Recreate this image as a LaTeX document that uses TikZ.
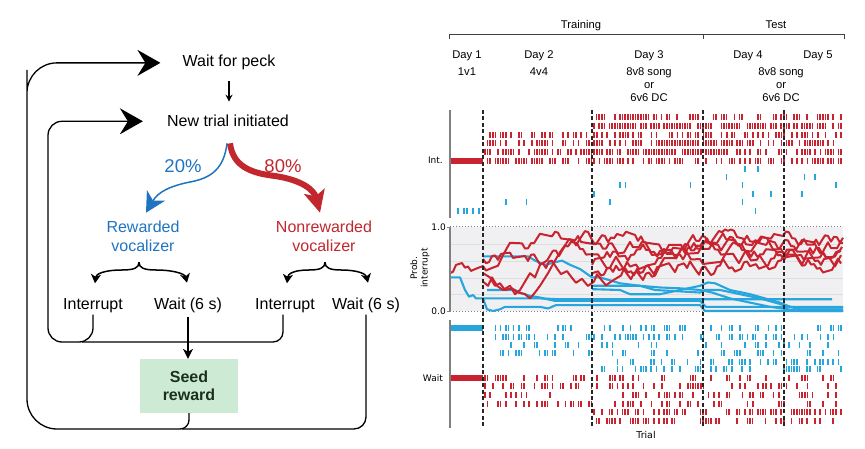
\documentclass[tikz,border=0pt]{standalone}
\usepackage{fontspec}
\setmainfont{Liberation Sans}
\newfontfamily\mplfont{DejaVu Sans}
\usetikzlibrary{arrows.meta,calc}
\definecolor{lblue}{HTML}{1F74C1}
\definecolor{lred}{HTML}{C1272D}
\definecolor{rred}{HTML}{C8232F}
\definecolor{rblue}{HTML}{27A6DE}
\definecolor{seedfill}{HTML}{CDEBD4}
\definecolor{seedtext}{HTML}{1A301C}
\definecolor{panelbg}{HTML}{F0F0F2}

\newcommand\rasterrow[6]{%
  \pgfmathtruncatemacro\rsn{(#3-#2)/#6}%
  \foreach \k in {0,...,\rsn}{%
    \pgfmathtruncatemacro\rsk{rnd<#4}%
    \ifnum\rsk=1 \fill[#5] ({#2+\k*#6-0.8},{#1-2.7}) rectangle ({#2+\k*#6+0.8},{#1+2.7});\fi
  }%
}

\newcommand\rwalk[7]{%
  \pgfmathsetseed{#5}%
  \xdef\wkp{#3}%
  \xdef\wkl{(#1,#3)}%
  \pgfmathtruncatemacro\wkn{(#2-#1)/3}%
  \foreach \k in {1,...,\wkn}{%
    \pgfmathsetmacro\wknp{max(0.05,min(0.97,\wkp+#6*round(2*rnd-1)+0.06*(#4-\wkp)))}%
    \pgfmathsetmacro\wkx{#1+3*\k}%
    \xdef\wkp{\wknp}%
    \xdef\wkl{\wkl -- (\wkx,\wknp)}%
  }%
  \edef\wkdo{\noexpand\draw[#7] \wkl;}\wkdo
}

\begin{document}
\begin{tikzpicture}[x=1pt,y=-1pt,
  lt/.style={font=\fontsize{16}{19.4}\selectfont, inner sep=2pt},
  pct/.style={font=\fontsize{18.5}{22}\selectfont, inner sep=0pt},
  loopline/.style={line width=1.3pt},
  bigtip/.style={-{Stealth[length=23pt,width=26pt,inset=8pt]}},
  bracearrow/.style={line width=1.5pt, -{Stealth[length=9pt,width=10pt,inset=2.5pt]}},
  rt/.style={font=\fontsize{11.2}{13}\selectfont, inner sep=0pt},
  mt/.style={font=\mplfont\fontsize{9}{10.5}\selectfont, inner sep=0pt},
  dashv/.style={dash pattern=on 4pt off 2.5pt, line width=1.1pt, black!85},
  axisg/.style={line width=1.2pt, black!50},
  rline/.style={rred, line width=2pt, line join=round},
  bline/.style={rblue, line width=2.1pt, line join=round},
]
\useasboundingbox (0,0) rectangle (865,449);

% ---------------- left flow chart ----------------
\node[lt,anchor=base] (wfp) at (229,67) {Wait for peck};
\node[lt,anchor=base] (nti) at (228,127) {New trial initiated};
\draw[line width=1.1pt, -{Stealth[length=7pt,width=7pt]}, shorten <=8pt, shorten >=11.5pt]
  (wfp.south) -- (wfp.south |- nti.north);

\node[lt, lblue, align=center] (rv) at (143,236.5) {Rewarded\\vocalizer};
\node[lt, lred, align=center] (nv) at (324,236.5) {Nonrewarded\\vocalizer};
\node[pct, lblue, anchor=base] (p20) at (183,173) {20\%};
\node[pct, lred, anchor=base] (p80) at (283,173) {80\%};

\draw[lblue, line width=1.5pt, -{Stealth[length=20pt,width=21pt,inset=6pt]}]
  ($(nti.south)+(-1,14)$) .. controls (224,168) and (212,178) .. (190,182)
  .. controls (170,186) and (158,192) .. ($(rv.north)+(3,-6)$);
\draw[lred, line width=6pt, -{Stealth[length=22pt,width=21pt,inset=5pt]}]
  ($(nti.south)+(2,14)$) .. controls (233,166) and (250,173) .. (275,176)
  .. controls (302,180) and (314,190) .. ($(nv.north)+(-4,-6)$);

\node[lt,anchor=base] (i1) at (93,309) {Interrupt};
\node[lt,anchor=base] (w1) at (188,309) {Wait (6 s)};
\node[lt,anchor=base] (i2) at (285,309) {Interrupt};
\node[lt,anchor=base] (w2) at (366,309) {Wait (6 s)};

\coordinate (bl) at ($(rv.south)+(-4,8)$);
\coordinate (br) at ($(nv.south)+(1,8)$);
\draw[bracearrow] (bl) .. controls (139,268) and (134,270) .. (122,270)
  .. controls (104,270) and (96,274) .. ($(i1.north)+(2,-12.5)$);
\draw[bracearrow] (bl) .. controls (139,268) and (144,270) .. (156,270)
  .. controls (174,270) and (185,274) .. ($(w1.north)+(-1,-12.5)$);
\draw[bracearrow] (br) .. controls (325,268) and (320,270) .. (309,270)
  .. controls (293,270) and (288,274) .. ($(i2.north)+(2,-12.5)$);
\draw[bracearrow] (br) .. controls (325,268) and (330,270) .. (341,270)
  .. controls (358,270) and (366,274) .. ($(w2.north)+(2,-12.5)$);

\node[fill=seedfill, minimum width=98pt, minimum height=54pt, align=center,
  font=\bfseries\fontsize{16}{18.5}\selectfont, text=seedtext] (seed) at (189,386) {Seed\\reward};

\draw[loopline, rounded corners=14pt, bigtip] (i1.south) |- (48,342) |- ([xshift=-22pt]nti.west);
\draw[loopline, rounded corners=10pt] ([xshift=-2pt]i2.south) |- (82,342);
\draw[loopline, bigtip] (seed.south) [rounded corners=9pt] |- (150,429)
  [rounded corners=30pt] -| (27,100) |- ([xshift=-20pt]wfp.west);
\draw[loopline, rounded corners=12pt] (w2.south) |- (182,429);
\draw[line width=1.3pt, -{Stealth[length=10pt,width=10pt,inset=3pt]}, shorten <=2pt]
  (w1.south) -- (w1.south |- seed.north);

% ---------------- right panel ----------------
\node[rt, anchor=base] (train) at (581,29) {Training};
\node[rt, anchor=base] (test) at (776,29) {Test};
\draw[black!75, line width=0.9pt] (449,39) -- (449,34) -- (844,34) -- (844,39);
\draw[black!75, line width=0.9pt] (703,34) -- (703,39);

\node[rt, anchor=base] (d1) at (467,58.5) {Day 1};
\node[rt, anchor=base] (d2) at (539,58.5) {Day 2};
\node[rt, anchor=base] (d3) at (649,58.5) {Day 3};
\node[rt, anchor=base] (d4) at (748,58.5) {Day 4};
\node[rt, anchor=base] (d5) at (818,58.5) {Day 5};
\node[rt, anchor=base] (c1) at (467,75.5) {1v1};
\node[rt, anchor=base] (c2) at (539,75.5) {4v4};
\node[rt, align=center, anchor=north] (c3) at (649,67.5) {8v8 song\\or\\6v6 DC};
\node[rt, align=center, anchor=north] (c4) at (781,67.5) {8v8 song\\or\\6v6 DC};

% middle panel background
\fill[panelbg] (450,227) rectangle (843,311);
\foreach \yy in {244,261,278,294} \draw[black!13, line width=0.6pt] (450,\yy) -- (843,\yy);
\draw[black!50, line width=1pt, dash pattern=on 1.3pt off 1.7pt] (450,227) -- (843,227);
\draw[black!50, line width=1pt, dash pattern=on 1.3pt off 1.7pt] (450,311) -- (843,311);

% rasters
\pgfmathsetseed{7}
\fill[rred] (450,158.3) rectangle (483,163.7);
\rasterrow{117}{594}{843}{0.62}{rred}{2.6}
\rasterrow{126}{594}{843}{0.7}{rred}{2.6}
\rasterrow{135}{485}{843}{0.5}{rred}{2.6}
\rasterrow{143}{485}{843}{0.6}{rred}{2.6}
\rasterrow{152}{485}{843}{0.6}{rred}{2.6}
\rasterrow{161}{485}{843}{0.6}{rred}{2.6}
\rasterrow{169}{594}{843}{0.02}{rblue}{2.6}
\rasterrow{177}{594}{843}{0.04}{rblue}{2.6}
\rasterrow{185}{485}{843}{0.03}{rblue}{2.6}
\rasterrow{194}{485}{843}{0.06}{rblue}{2.6}
\rasterrow{202}{485}{843}{0.03}{rblue}{2.6}
\rasterrow{211}{452}{481}{0.4}{rblue}{3}
\rasterrow{211}{485}{843}{0.005}{rblue}{2.6}

\fill[rblue] (450,325.3) rectangle (483,330.7);
\rasterrow{328}{485}{843}{0.35}{rblue}{2.6}
\rasterrow{337}{485}{843}{0.35}{rblue}{2.6}
\rasterrow{345}{485}{843}{0.2}{rblue}{2.6}
\rasterrow{353}{485}{843}{0.3}{rblue}{2.6}
\rasterrow{362}{594}{843}{0.35}{rblue}{2.6}
\rasterrow{369}{594}{843}{0.35}{rblue}{2.6}
\fill[rred] (450,375.3) rectangle (483,380.7);
\rasterrow{378}{485}{843}{0.3}{rred}{2.6}
\rasterrow{386}{485}{843}{0.35}{rred}{2.6}
\rasterrow{395}{485}{843}{0.3}{rred}{2.6}
\rasterrow{404}{485}{843}{0.3}{rred}{2.6}
\rasterrow{412}{594}{843}{0.45}{rred}{2.6}
\rasterrow{421}{594}{843}{0.45}{rred}{2.6}

% probability lines
\begin{scope}[shift={(0,311)}, y=84pt]
\draw[bline] (450,.40) -- (460,.40) -- (465,.25) -- (469,.17) -- (473,.19) -- (476,.15) -- (483,.15) -- (540,.15) -- (560,.14) -- (832,.14);
\draw[bline] (483,.65) -- (528,.65) -- (535,.6) -- (545,.55) -- (555,.58) -- (562,.6) -- (570,.55) -- (580,.5) -- (592,.4) -- (600,.4) -- (620,.33) -- (640,.3) -- (660,.28) -- (680,.27) -- (700,.25) -- (712,.22) -- (730,.15) -- (750,.1) -- (770,.05) -- (800,.0) -- (843,.0);
\draw[bline] (487,.25) -- (515,.25) -- (520,.22) -- (525,.2) -- (530,.18) -- (540,.16) -- (555,.12) -- (590,.12) -- (700,.12) -- (706,.05) -- (843,.05);
\draw[bline] (483,.15) -- (487,.02) -- (493,.0) -- (500,.02) -- (505,.05) -- (540,.05) -- (548,.03) -- (556,.07) -- (592,.07) -- (700,.07) -- (705,.0) -- (843,.0);
\draw[bline] (592,.3) -- (640,.3) -- (655,.25) -- (700,.22) -- (705,.25) -- (720,.25) -- (740,.2) -- (760,.15) -- (775,.1) -- (790,.05) -- (800,.04) -- (843,.04);
\draw[bline] (592,.26) -- (620,.25) -- (630,.2) -- (660,.2) -- (680,.25) -- (700,.3) -- (708,.34) -- (715,.33) -- (730,.25) -- (750,.2) -- (765,.15) -- (780,.1) -- (790,.05) -- (800,.02) -- (843,.02);
\draw[rline] (483,.45) -- (490,.4) -- (495,.3) -- (500,.33) -- (505,.25) -- (512,.27) -- (518,.22) -- (525,.2) -- (530,.15) -- (535,.22) -- (540,.3) -- (548,.45) -- (555,.6) -- (560,.7) -- (566,.8);
\draw[rline] (483,.35) -- (488,.3) -- (492,.4) -- (497,.3) -- (503,.25) -- (510,.3) -- (515,.2) -- (520,.25) -- (525,.35) -- (530,.45) -- (535,.4) -- (540,.55) -- (547,.6) -- (553,.72);
\rwalk{450}{843}{0.45}{0.74}{11}{0.065}{rline}
\rwalk{483}{843}{0.62}{0.78}{23}{0.06}{rline}
\rwalk{566}{843}{0.80}{0.72}{37}{0.06}{rline}
\rwalk{553}{843}{0.72}{0.68}{41}{0.06}{rline}
\rwalk{592}{843}{0.55}{0.72}{53}{0.06}{rline}
\rwalk{592}{843}{0.45}{0.64}{67}{0.06}{rline}
\end{scope}

% axes
\draw[axisg] (450,110) -- (450,218);
\draw[axisg] (450,227) -- (450,311);
\draw[axisg] (450,320) -- (450,428);
\draw[axisg, line width=0.8pt] (447,227) -- (450,227);
\draw[axisg, line width=0.8pt] (447,311) -- (450,311);
\foreach \xx in {483,592,703,784} \draw[dashv] (\xx,110) -- (\xx,428);

\node[mt, anchor=east] (l10) at (446,227) {1.0};
\node[mt, anchor=east] (l00) at (446,311) {0.0};
\node[mt, rotate=90, align=center] (plab) at (420,268) {Prob.\\interrupt};
\node[mt, anchor=east] (lint) at (443,160) {Int.};
\node[mt, anchor=east] (lwait) at (443,378) {Wait};
\node[mt, font=\mplfont\fontsize{9.4}{11}\selectfont] (ltrial) at (646,435) {Trial};
\end{tikzpicture}
\end{document}
